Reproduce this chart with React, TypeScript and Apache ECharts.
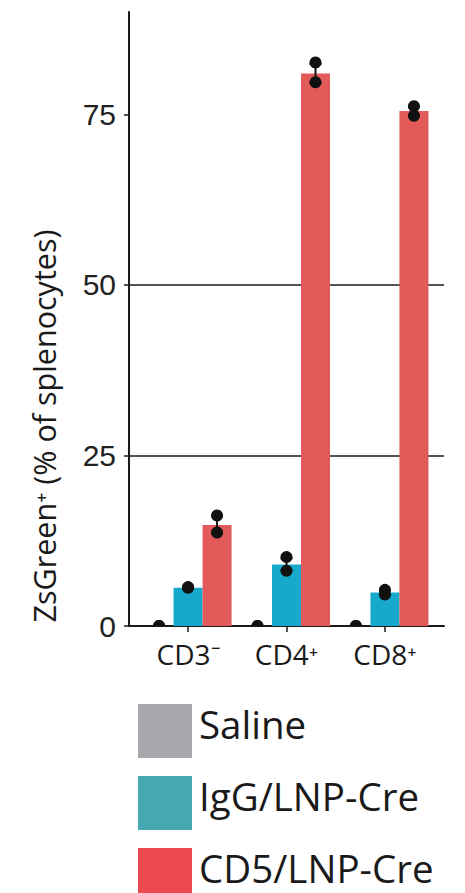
import React, { useEffect, useRef } from "react";
import * as echarts from "echarts";

const categories = ["CD3⁻", "CD4⁺", "CD8⁺"];
const groupNames = ["Saline", "IgG/LNP-Cre", "CD5/LNP-Cre"];
const barColors = ["#a7a8ac", "#17a9cc", "#e25a5a"];
const legendColors = ["#a7a8ac", "#45a8b3", "#ec4a50"];

const salineMeans = [0, 0, 0];
const iggMeans = [5.6, 9.0, 4.9];
const cd5Means = [14.8, 81.0, 75.5];

const salineErr = [0, 0, 0];
const iggErr = [0.15, 0.9, 0.3];
const cd5Err = [1.3, 1.4, 0.6];

const salineDots = [[0, 0], [0, 0], [0, 0]];
const iggDots = [[5.7, 5.6], [10.1, 8.1], [5.3, 4.6]];
const cd5Dots = [[16.2, 13.7], [82.6, 79.7], [76.2, 74.8]];

const yTicks = [0, 25, 50, 75];

const BAR_W = 29;

export default function App() {
  const ref = useRef<HTMLDivElement>(null);
  useEffect(() => {
    document.body.style.margin = "0";
    const chart = echarts.init(ref.current!, null, { renderer: "svg" });
    const means = [salineMeans, iggMeans, cd5Means];
    const errs = [salineErr, iggErr, cd5Err];
    const dots = [salineDots, iggDots, cd5Dots];

    const errData: any[] = [];
    const dotData: any[] = [];
    for (let s = 0; s < 3; s++) {
      for (let c = 0; c < 3; c++) {
        errData.push([c, s, means[s][c], errs[s][c]]);
        dots[s][c].forEach((d) => dotData.push([c, s, d]));
      }
    }

    const barSeries = groupNames.map((name, s) => ({
      name,
      type: "bar",
      barWidth: BAR_W,
      barGap: "0%",
      itemStyle: { color: barColors[s] },
      data: means[s].map((v, c) => [c, v]),
      z: 2,
    }));

    chart.setOption({
      animation: false,
      backgroundColor: "#ffffff",
      grid: { left: 129, right: 21, top: 12, bottom: 267 },
      xAxis: {
        type: "value",
        min: -0.6,
        max: 2.6,
        splitLine: { show: false },
        axisLine: { show: true, onZero: false, lineStyle: { color: "#1a1a1a", width: 2 } },
        axisTick: {
          show: true,
          customValues: [0, 1, 2],
          length: 6,
          lineStyle: { color: "#1a1a1a", width: 1.5 },
        },
        axisLabel: {
          customValues: [0, 1, 2],
          formatter: (v: number) => categories[Math.round(v)] ?? "",
          fontFamily: "Open Sans",
          fontSize: 28,
          color: "#1a1a1a",
          margin: 14,
        },
      },
      yAxis: {
        type: "value",
        min: 0,
        max: 90,
        interval: 25,
        name: "ZsGreen⁺ (% of splenocytes)",
        nameLocation: "middle",
        nameGap: 70,
        nameTextStyle: {
          fontFamily: "Open Sans",
          fontSize: 30.5,
          color: "#1a1a1a",
          padding: [0, 214, 0, 0],
        },
        axisLine: { show: true, onZero: false, lineStyle: { color: "#1a1a1a", width: 2 } },
        axisTick: {
          show: true,
          customValues: yTicks,
          length: 5,
          lineStyle: { color: "#1a1a1a", width: 1.5 },
        },
        axisLabel: {
          customValues: yTicks,
          fontFamily: "Liberation Sans",
          fontSize: 30,
          color: "#222222",
          margin: 13,
        },
        splitLine: {
          show: true,
          showMaxLine: false,
          lineStyle: { color: "#1a1a1a", width: 1.5 },
        },
      },
      legend: {
        orient: "vertical",
        left: 133,
        top: 699,
        height: 240,
        itemWidth: 54,
        itemHeight: 54,
        itemGap: 18,
        icon: "rect",
        selectedMode: false,
        data: groupNames.map((n, i) => ({ name: n, itemStyle: { color: legendColors[i] } })),
        formatter: "{t|{name}}",
        textStyle: {
          fontFamily: "Open Sans",
          fontSize: 38.5,
          color: "#1a1a1a",
          rich: {
            t: {
              fontFamily: "Open Sans",
              fontSize: 38.5,
              color: "#1a1a1a",
              padding: [0, 0, 14, 2],
            },
          },
        },
      },
      series: [
        ...barSeries,
        {
          type: "custom",
          name: "err",
          clip: true,
          z: 5,
          data: errData,
          renderItem: (params: any, api: any) => {
            const c = api.value(0);
            const s = api.value(1);
            const m = api.value(2);
            const e = api.value(3);
            if (!e) return null;
            const top = api.coord([c, m + e]);
            const bot = api.coord([c, m - e]);
            const x = top[0] + (s - 1) * BAR_W;
            const style = { stroke: "#111", lineWidth: 2 };
            return {
              type: "group",
              children: [
                { type: "line", shape: { x1: x, y1: top[1], x2: x, y2: bot[1] }, style },
                { type: "line", shape: { x1: x - 6, y1: top[1], x2: x + 6, y2: top[1] }, style },
                { type: "line", shape: { x1: x - 6, y1: bot[1], x2: x + 6, y2: bot[1] }, style },
              ],
            };
          },
        },
        {
          type: "custom",
          name: "dots",
          clip: true,
          z: 6,
          data: dotData,
          renderItem: (params: any, api: any) => {
            const c = api.value(0);
            const s = api.value(1);
            const d = api.value(2);
            const p = api.coord([c, d]);
            return {
              type: "circle",
              shape: { cx: p[0] + (s - 1) * BAR_W, cy: p[1], r: 6 },
              style: { fill: "#111" },
            };
          },
        },
      ],
    });
    return () => chart.dispose();
  }, []);
  return <div ref={ref} style={{ width: 465, height: 893 }} />;
}
